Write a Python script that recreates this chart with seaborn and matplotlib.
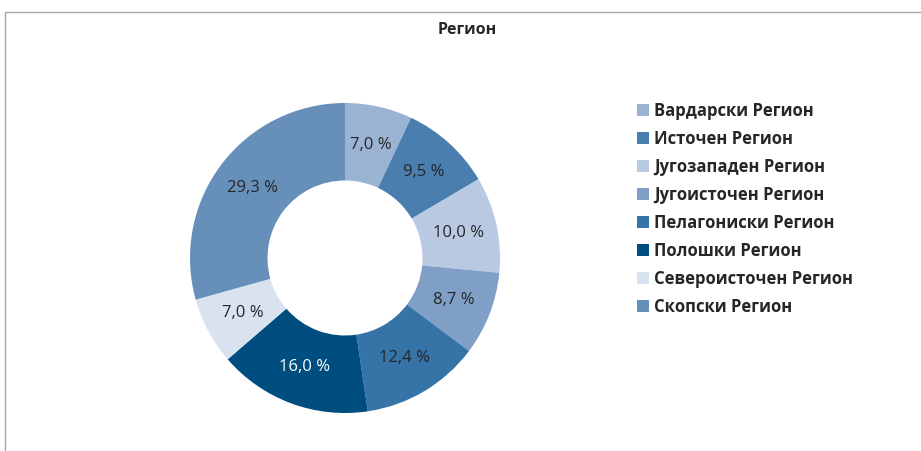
import matplotlib
matplotlib.use("Agg")
import matplotlib.pyplot as plt
from matplotlib.patches import Rectangle, Patch
import seaborn as sns
import numpy as np

regions = ["Вардарски Регион", "Источен Регион", "Југозападен Регион", "Југоисточен Регион",
           "Пелагониски Регион", "Полошки Регион", "Североисточен Регион", "Скопски Регион"]
shares = [7.0, 9.5, 10.0, 8.7, 12.4, 16.0, 7.0, 29.3]
colors = ["#9BB3D3", "#4A7EAF", "#B8C9E1", "#7F9FC6", "#3673A6", "#004D80", "#D9E2EF", "#6690BA"]
label_colors = ["#262626"] * 5 + ["white"] + ["#262626"] * 2

sns.set_theme(style="white")
plt.rcParams['font.family'] = ['Open Sans', 'DejaVu Sans']

fig = plt.figure(figsize=(9.21, 4.51), dpi=100)
fig.patches.append(Rectangle((5 / 921, -0.1), 1.2, 1 - 12 / 451 + 0.1, transform=fig.transFigure,
                             fill=False, edgecolor="#A6A6A6", linewidth=1.0))

ax = fig.add_axes([190 / 921, 38 / 451, 310 / 921, 310 / 451])
wedges, texts = ax.pie(shares, colors=colors, startangle=90, counterclock=False,
                       wedgeprops=dict(width=0.5, linewidth=0))
for w, v, c in zip(wedges, shares, label_colors):
    ang = np.deg2rad((w.theta1 + w.theta2) / 2)
    ax.text(0.75 * np.cos(ang), 0.75 * np.sin(ang), f"{v:.1f} %".replace(".", ","),
            ha="center", va="center", fontsize=12, color=c)
ax.set_xlim(-1, 1)
ax.set_ylim(-1, 1)
ax.set_aspect("equal")

fig.text(467 / 921, 1 - 30 / 451, "Регион", ha="center", va="center",
         fontsize=11.5, fontweight="bold", color="#262626")

handles = [Patch(facecolor=c, edgecolor="none") for c in colors]
leg = fig.legend(handles, regions, loc="upper left", bbox_to_anchor=(622 / 921, 1 - 87 / 451),
                 frameon=False, handlelength=0.7, handleheight=0.7, handletextpad=0.35,
                 labelspacing=0.6, prop=dict(weight="bold", size=12))
for t in leg.get_texts():
    t.set_color("#262626")

fig.savefig("out.png", dpi=100)
